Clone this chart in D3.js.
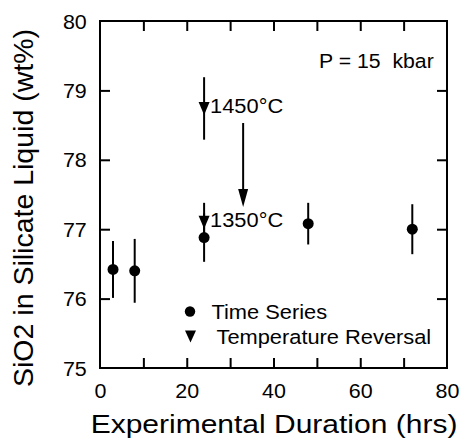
<!DOCTYPE html>
<html>
<head>
<meta charset="utf-8">
<script src="https://cdn.jsdelivr.net/npm/d3@7"></script>
<style>
  body { margin: 0; background: #fff; }
  text { font-family: "Liberation Sans", Arial, Helvetica, sans-serif; fill: #000; }
</style>
</head>
<body>
<svg id="chart"></svg>
<script>
// time series runs
const timeHours = [3, 8, 24, 48, 72];
const timeSiO2 = [76.42, 76.40, 76.88, 77.08, 77.00];
const timeErr = [0.41, 0.46, 0.35, 0.30, 0.36];

// temperature reversal run
const revHours = [24, 24];
const revSiO2 = [78.74, 77.10];
const revErr = [0.45, 0.28];
const revLabels = ["1450°C", "1350°C"];

// arrow for the temperature drop
const arrowHours = [33, 33];
const arrowSiO2 = [78.53, 77.32];

const xTicks = [0, 10, 20, 30, 40, 50, 60, 70, 80];
const xTickLabels = [0, 20, 40, 60, 80];
const yTicks = [75, 76, 77, 78, 79, 80];
const legendLabels = ["Time Series", "Temperature Reversal"];

const width = 460, height = 447;
const margin = {top: 21, right: 13, bottom: 79, left: 100};
const stretch = 1.12; // the scan is a bit wider than tall

const svg = d3.select('#chart')
    .attr('width', width)
    .attr('height', height);

const x = d3.scaleLinear().domain([0, 80]).range([margin.left, width - margin.right]);
const y = d3.scaleLinear().domain([75, 80]).range([height - margin.bottom, margin.top]);

// ticks, inward on all four sides
const inner = xTicks.filter(d => d > 0 && d < 80);
const innerY = yTicks.filter(d => d > 75 && d < 80);

function plain(g) {
    g.select('.domain').remove();
    g.selectAll('line').attr('stroke', '#000').attr('stroke-width', 2);
    g.selectAll('text').remove();
}

svg.append('g').attr('transform', `translate(0,${y(75)})`)
    .call(d3.axisBottom(x).tickValues(inner).tickSize(-10)).call(plain);
svg.append('g').attr('transform', `translate(0,${y(80)})`)
    .call(d3.axisTop(x).tickValues(inner).tickSize(-10)).call(plain);
svg.append('g').attr('transform', `translate(${x(0)},0)`)
    .call(d3.axisLeft(y).tickValues(innerY).tickSize(-10)).call(plain);
svg.append('g').attr('transform', `translate(${x(80)},0)`)
    .call(d3.axisRight(y).tickValues(innerY).tickSize(-10)).call(plain);

// tick labels
const xl = svg.append('g').attr('transform', `translate(0,${y(75)})`)
    .call(d3.axisBottom(x).tickValues(xTickLabels).tickFormat(d3.format('d')).tickSize(0).tickPadding(16));
xl.select('.domain').remove();
xl.selectAll('text')
    .attr('font-size', 19.5)
    .attr('font-family', null)
    .attr('transform', 'scale(1.1,1)');

const yl = svg.append('g').attr('transform', `translate(${x(0)},0)`)
    .call(d3.axisLeft(y).tickValues(yTicks).tickFormat(d3.format('d')).tickSize(0).tickPadding(12));
yl.select('.domain').remove();
yl.selectAll('text')
    .attr('font-size', 19.5)
    .attr('font-family', null)
    .attr('dy', '0.36em')
    .attr('transform', 'scale(1.1,1)');

// frame
svg.append('rect')
    .attr('x', x(0)).attr('y', y(80))
    .attr('width', x(80) - x(0)).attr('height', y(75) - y(80))
    .attr('fill', 'none').attr('stroke', '#000').attr('stroke-width', 2);

// axis titles
svg.append('text')
    .attr('transform', `translate(274,433) scale(1.2,1)`)
    .attr('text-anchor', 'middle')
    .attr('font-size', 25)
    .text('Experimental Duration (hrs)');

svg.append('text')
    .attr('transform', 'translate(33,208) rotate(-90)')
    .attr('text-anchor', 'middle')
    .attr('font-size', 28.5)
    .text('SiO2 in Silicate Liquid (wt%)');

const tri = (cx, cy, w, h) => `M${cx - w / 2},${cy - h / 2}L${cx + w / 2},${cy - h / 2}L${cx},${cy + h / 2}Z`;

// error bars
const timeData = timeHours.map((h, i) => ({h, v: timeSiO2[i], e: timeErr[i]}));
const revData = revHours.map((h, i) => ({h, v: revSiO2[i], e: revErr[i], label: revLabels[i]}));

svg.append('g').selectAll('line')
    .data(timeData.concat(revData))
    .join('line')
    .attr('x1', d => x(d.h)).attr('x2', d => x(d.h))
    .attr('y1', d => y(d.v + d.e)).attr('y2', d => y(d.v - d.e))
    .attr('stroke', '#000').attr('stroke-width', 2);

// time series points
svg.append('g').selectAll('circle')
    .data(timeData)
    .join('circle')
    .attr('cx', d => x(d.h)).attr('cy', d => y(d.v))
    .attr('r', 5.5).attr('fill', '#000');

// reversal points
svg.append('g').selectAll('path')
    .data(revData)
    .join('path')
    .attr('d', d => tri(x(d.h), y(d.v), 11, 13))
    .attr('fill', '#000');

svg.append('g').selectAll('text')
    .data(revData)
    .join('text')
    .attr('transform', d => `translate(${x(d.h) + 6},${y(d.v) + 4.5}) scale(${stretch},1)`)
    .attr('font-size', 19.5)
    .text(d => d.label);

// arrow 1450 -> 1350
const ax = x(arrowHours[0]), ay0 = y(arrowSiO2[0]), ay1 = y(arrowSiO2[1]);
svg.append('line')
    .attr('x1', ax).attr('x2', ax)
    .attr('y1', ay0).attr('y2', ay1 - 15)
    .attr('stroke', '#000').attr('stroke-width', 2);
svg.append('path')
    .attr('d', `M${ax - 5},${ay1 - 18}L${ax + 5},${ay1 - 18}L${ax},${ay1}Z`)
    .attr('fill', '#000');

// pressure note
svg.append('text')
    .attr('transform', `translate(319,68) scale(1.09,1)`)
    .attr('font-size', 19.5)
    .attr('xml:space', 'preserve')
    .text('P = 15  kbar');

// legend
const legend = svg.append('g');
legend.append('circle').attr('cx', 190).attr('cy', 311.5).attr('r', 5.2).attr('fill', '#000');
legend.append('path').attr('d', tri(190.5, 336.5, 11, 12)).attr('fill', '#000');
legend.selectAll('text')
    .data(legendLabels)
    .join('text')
    .attr('transform', (d, i) => `translate(${i ? 216.5 : 211.5},${i ? 344 : 319}) scale(${stretch},1)`)
    .attr('font-size', 19.5)
    .text(d => d);
</script>
</body>
</html>
